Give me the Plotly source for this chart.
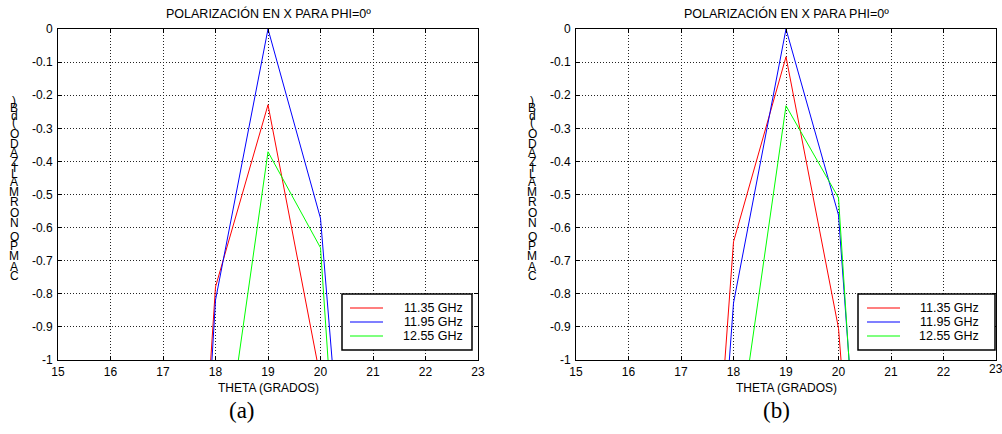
import plotly.graph_objects as go

# ---- data ----
theta = [17, 18, 19, 20, 21]
freq_labels = ["11.35 GHz", "11.95 GHz", "12.55 GHz"]
colors = ["#ff0000", "#0000ff", "#00ff00"]

# panel (a)
a_1135 = [-3.2, -0.779, -0.229, -1.056, -2.5]
a_1195 = [-3.5, -0.819, 0.0, -0.572, -2.51]
a_1255 = [-2.6, -1.49, -0.371, -0.661, -3.02]

# panel (b)
b_1135 = [-2.83, -0.643, -0.084, -0.904, -2.9]
b_1195 = [-3.0, -0.828, 0.0, -0.562, -2.74]
b_1255 = [-2.6, -1.34, -0.232, -0.510, -2.96]

xtick_vals = [15, 16, 17, 18, 19, 20, 21, 22, 23]
ytick_vals = [0, -0.1, -0.2, -0.3, -0.4, -0.5, -0.6, -0.7, -0.8, -0.9, -1]
ytick_text = ["0", "-0.1", "-0.2", "-0.3", "-0.4", "-0.5", "-0.6", "-0.7", "-0.8", "-0.9", "-1"]

title_text = "POLARIZACIÓN EN X PARA PHI=0º"
xlabel_text = "THETA (GRADOS)"
ylabel_text = "CAMPO NORMALIZADO (dB)"
panel_tags = ["(a)", "(b)"]

W, H = 1002, 434
FONT = "Liberation Sans, Arial, sans-serif"
SERIF = "Liberation Serif, Times New Roman, serif"

fig = go.Figure()

panels = [
    ([a_1135, a_1195, a_1255], "x", "y"),
    ([b_1135, b_1195, b_1255], "x2", "y2"),
]
for series, xa, ya in panels:
    for vals, name, col in zip(series, freq_labels, colors):
        fig.add_trace(go.Scatter(
            x=theta, y=vals, mode="lines", name=name, showlegend=False,
            line=dict(color=col, width=1), xaxis=xa, yaxis=ya,
        ))

def px(x):
    return x / W

def py(y):
    return 1 - y / H

x_dom = [[px(58), px(478)], [px(576), px(996)]]
y_dom = [py(360), py(29)]

axis_common = dict(
    showline=True, linecolor="black", linewidth=1, mirror="ticks",
    ticks="inside", ticklen=4, tickcolor="black", automargin=False,
    showgrid=True, gridcolor="#222222", griddash="1px,2px", gridwidth=1,
    zeroline=False, tickfont=dict(family=FONT, size=12, color="black"),
)

layout = dict(
    template="none",
    width=W, height=H, margin=dict(l=0, r=0, t=0, b=0, autoexpand=False),
    paper_bgcolor="white", plot_bgcolor="white", showlegend=False,
    font=dict(family=FONT, size=12, color="black"),
)
for i, (xk, yk, xa_name, ya_name) in enumerate([("xaxis", "yaxis", "x", "y"), ("xaxis2", "yaxis2", "x2", "y2")]):
    # the right panel's last label sits at the page edge; it is drawn as an annotation below
    tv = xtick_vals if i == 0 else xtick_vals[:-1]
    layout[xk] = dict(axis_common, domain=x_dom[i], range=[15, 23], tickvals=tv,
                      anchor=ya_name, ticklabelstandoff=1)
    layout[yk] = dict(axis_common, domain=y_dom, range=[-1, 0], tickvals=ytick_vals,
                      ticktext=ytick_text, anchor=xa_name, ticklabelstandoff=2)
fig.update_layout(**layout)

fig.add_annotation(x=xtick_vals[-1], xref="x2", y=py(369), yref="paper",
                   text=str(xtick_vals[-1]), showarrow=False, xanchor="center", yanchor="middle",
                   font=dict(family=FONT, size=12, color="black"))

# titles, axis labels, panel tags
for i in range(2):
    cx = (x_dom[i][0] + x_dom[i][1]) / 2
    fig.add_annotation(x=cx, y=py(13), xref="paper", yref="paper", text=title_text,
                       showarrow=False, xanchor="center", yanchor="middle",
                       font=dict(family=FONT, size=12.5, color="black"))
    fig.add_annotation(x=cx, y=py(388), xref="paper", yref="paper", text=xlabel_text,
                       showarrow=False, xanchor="center", yanchor="middle",
                       font=dict(family=FONT, size=12, color="black"))
    tag_x = [242, 776][i]
    fig.add_annotation(x=px(tag_x), y=py(410), xref="paper", yref="paper", text=panel_tags[i],
                       showarrow=False, xanchor="center", yanchor="middle",
                       font=dict(family=SERIF, size=23, color="black"))

# legends (box, line samples, right-aligned labels) drawn like the reference
legend_boxes = [
    dict(x0=342, x1=472, y0=294, y1=350, l0=350, l1=383, tx=465),
    dict(x0=858, x1=995, y0=294, y1=350, l0=867, l1=900, tx=981),
]
row_y = [308, 322, 336]
for lb in legend_boxes:
    fig.add_shape(type="rect", xref="paper", yref="paper",
                  x0=px(lb["x0"]), x1=px(lb["x1"]), y0=py(lb["y1"]), y1=py(lb["y0"]),
                  line=dict(color="black", width=1.5), fillcolor="white", layer="above")
    for name, col, ry in zip(freq_labels, colors, row_y):
        fig.add_shape(type="line", xref="paper", yref="paper",
                      x0=px(lb["l0"]), x1=px(lb["l1"]), y0=py(ry), y1=py(ry),
                      line=dict(color=col, width=1.2), layer="above")
        fig.add_annotation(x=px(lb["tx"]), y=py(ry), xref="paper", yref="paper", text=name,
                           showarrow=False, xanchor="right", yanchor="middle",
                           font=dict(family=FONT, size=12.5, color="black"))

# stacked upright y-axis label (glyphs advanced vertically, as in the reference)
adv = {"C": 722, "A": 667, "M": 833, "P": 667, "O": 778, " ": 278, "N": 722, "R": 722,
       "L": 556, "I": 278, "Z": 611, "D": 722, "(": 333, "d": 556, "B": 667, ")": 333}
adv_size = 13.5
glyph_size = 12
total = sum(adv.get(c, 600) for c in ylabel_text) * adv_size / 1000
center_y = 190
for lx in [14, 532]:
    cum = 0
    for ch in ylabel_text:
        a = adv.get(ch, 600) * adv_size / 1000
        if ch != " ":
            ypix = center_y + total / 2 - (cum + a / 2)
            fig.add_annotation(x=px(lx), y=py(ypix), xref="paper", yref="paper", text=ch,
                               showarrow=False, xanchor="center", yanchor="middle",
                               borderpad=0,
                               font=dict(family=FONT, size=glyph_size, color="black"))
        cum += a

fig.write_html("out.html")
